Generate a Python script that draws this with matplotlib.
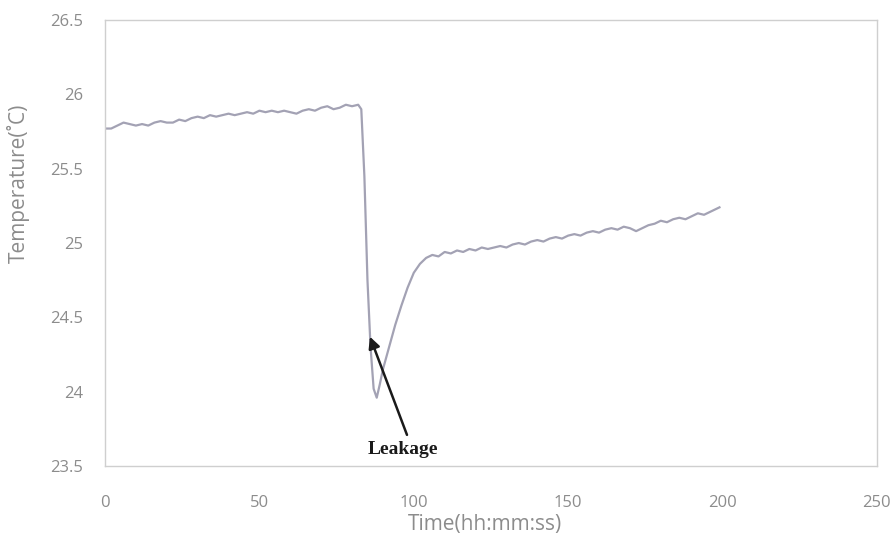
import numpy as np
import matplotlib
matplotlib.use("Agg")
import matplotlib.pyplot as plt

# time (s) and temperature (degC)
time_s = [0, 2, 4, 6, 8, 10, 12, 14, 16, 18, 20, 22, 24, 26, 28, 30, 32, 34, 36, 38,
          40, 42, 44, 46, 48, 50, 52, 54, 56, 58, 60, 62, 64, 66, 68, 70, 72, 74, 76, 78,
          80, 82, 83, 84, 85, 86, 87, 88, 89, 90, 92, 94, 96, 98, 100, 102, 104, 106, 108,
          110, 112, 114, 116, 118, 120, 122, 124, 126, 128, 130, 132, 134, 136, 138, 140,
          142, 144, 146, 148, 150, 152, 154, 156, 158, 160, 162, 164, 166, 168, 170, 172,
          174, 176, 178, 180, 182, 184, 186, 188, 190, 192, 194, 196, 198, 199]
temp_c = [25.77, 25.77, 25.79, 25.81, 25.80, 25.79, 25.80, 25.79, 25.81, 25.82,
          25.81, 25.81, 25.83, 25.82, 25.84, 25.85, 25.84, 25.86, 25.85, 25.86,
          25.87, 25.86, 25.87, 25.88, 25.87, 25.89, 25.88, 25.89, 25.88, 25.89,
          25.88, 25.87, 25.89, 25.90, 25.89, 25.91, 25.92, 25.90, 25.91, 25.93,
          25.92, 25.93, 25.90, 25.45, 24.75, 24.30, 24.02, 23.96, 24.05, 24.15,
          24.30, 24.45, 24.58, 24.70, 24.80, 24.86, 24.90, 24.92, 24.91,
          24.94, 24.93, 24.95, 24.94, 24.96, 24.95, 24.97, 24.96, 24.97, 24.98,
          24.97, 24.99, 25.00, 24.99, 25.01, 25.02, 25.01, 25.03, 25.04, 25.03,
          25.05, 25.06, 25.05, 25.07, 25.08, 25.07, 25.09, 25.10, 25.09, 25.11,
          25.10, 25.08, 25.10, 25.12, 25.13, 25.15, 25.14, 25.16, 25.17, 25.16,
          25.18, 25.20, 25.19, 25.21, 25.23, 25.24]

x_ticks = [0, 50, 100, 150, 200, 250]
y_ticks = [23.5, 24, 24.5, 25, 25.5, 26, 26.5]

# arrow: tip on the trace, tail above the label
leak_tip = (85.8, 24.37)
leak_tail = (97.8, 23.71)
leak_text = (96.5, 23.61)

grey = "#8c8c8c"

fig = plt.figure(figsize=(8.93, 5.49), dpi=100)
ax = fig.add_axes([0.1176, 0.151, 0.8644, 0.8126])

ax.plot(time_s, temp_c, color="#a3a2b4", linewidth=1.6)

ax.set_xlim(0, 250)
ax.set_ylim(23.5, 26.5)
ax.set_xticks(x_ticks)
ax.set_yticks(y_ticks)
ax.set_yticklabels([f"{v:g}" for v in y_ticks])
ax.tick_params(length=0, colors=grey, labelsize=12)
ax.tick_params(axis="y", pad=16)
ax.tick_params(axis="x", pad=21)
for lab in ax.get_xticklabels() + ax.get_yticklabels():
    lab.set_fontfamily("Open Sans")

for s in ax.spines.values():
    s.set_color("#cfcfcf")
    s.set_linewidth(1)

ax.set_xlabel("Time(hh:mm:ss)", color=grey, fontsize=15, family="Open Sans")
ax.set_ylabel("Temperature(\u02daC)", color=grey, fontsize=15, family="Open Sans")
ax.xaxis.set_label_coords(0.492, -0.107)
ax.yaxis.set_label_coords(-0.097, 0.635)

ax.annotate("", xy=leak_tip, xytext=leak_tail,
            arrowprops=dict(arrowstyle="-|>", color="#1a1a1a", lw=1.8,
                            mutation_scale=17, shrinkA=0, shrinkB=0))
ax.text(leak_text[0], leak_text[1], "Leakage", ha="center", va="center",
        fontsize=14, fontweight="bold", family="Liberation Serif", color="#1a1a1a")

fig.savefig("out.png", dpi=100)
